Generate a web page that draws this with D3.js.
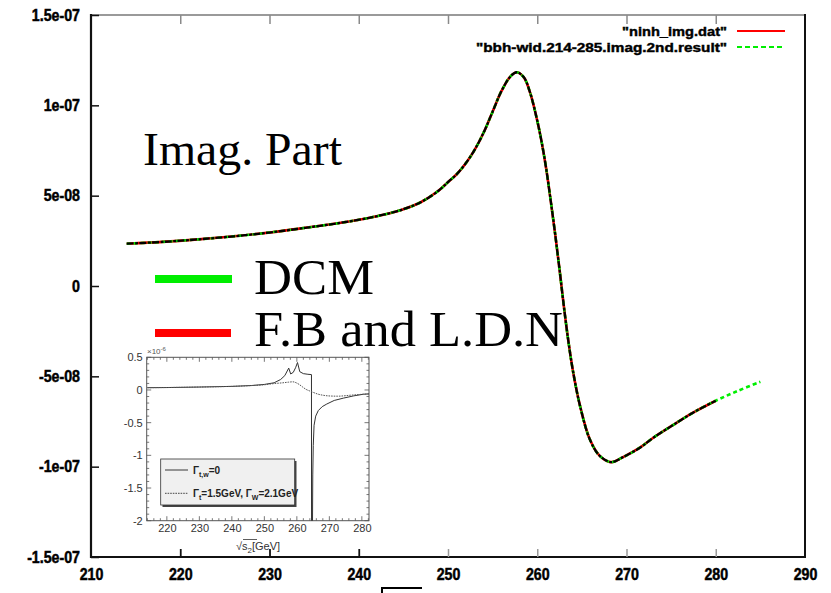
<!DOCTYPE html>
<html>
<head>
<meta charset="utf-8">
<script src="https://cdn.jsdelivr.net/npm/d3@7"></script>
<style>
  html, body { margin: 0; padding: 0; background: #fff; }
  svg { display: block; }
</style>
</head>
<body>
<svg id="chart" width="831" height="593"></svg>
<script>
// Imaginary part of the amplitude versus sqrt(s) [GeV]; values in units of 1e-9.
const sqrtS = [214, 218, 222, 226, 230, 234, 238, 242, 245, 247, 249, 250, 251, 252, 253, 254, 255, 256, 257,
  257.7, 258.5, 259.2, 260, 260.5, 261, 261.5, 262, 262.5, 263, 263.5, 264, 264.8, 265.9, 267, 268.3, 269.5,
  271.5, 273, 275.2, 277.5, 280, 282.5, 285];
const imagDCM = [23.4, 24.4, 25.8, 27.5, 29.6, 32.2, 35, 38.6, 42.5, 46.5, 53, 57.5, 62, 68, 75.5, 85, 96.5, 108, 116,
  118.3, 115.5, 107, 91.5, 79.5, 65, 47.5, 29, 9, -12, -31, -47, -66.5, -85, -94, -97.5, -95,
  -89.5, -84, -77, -70, -63.5, -58, -53];
const imagFBLDN = [23.4, 24.4, 25.8, 27.5, 29.6, 32.2, 35, 38.6, 42.5, 46.5, 53, 57.5, 62, 68, 75.5, 85, 96.5, 108, 116,
  118.3, 115.5, 107, 91.5, 79.5, 65, 47.5, 29, 9, -12, -31, -47, -66.5, -85, -94, -97.5, -95,
  -89.5, -84, -77, -70, -63.5];

const yTickValues = [-150, -100, -50, 0, 50, 100, 150];
const yTickLabels = ["-1.5e-07", "-1e-07", "-5e-08", "0", "5e-08", "1e-07", "1.5e-07"];
const xTickValues = [210, 220, 230, 240, 250, 260, 270, 280, 290];

// Inset: units of 1e-6
const insetSolidLeftX = [214, 220, 230, 240, 246, 250, 253, 255, 256.3, 257.5, 258.1, 258.9, 259.6, 260.2, 260.9, 262, 263.4, 264.5, 264.52];
const insetSolidLeftY = [0.035, 0.037, 0.045, 0.055, 0.068, 0.085, 0.11, 0.16, 0.22, 0.335, 0.245, 0.27, 0.34, 0.42, 0.28, 0.25, 0.24, 0.235, -2.2];
const insetSolidRightX = [264.8, 264.9, 265.05, 265.3, 265.8, 266.6, 267.8, 269.2, 271.5, 274.3, 277.5, 280.5, 282.2];
const insetSolidRightY = [-2.2, -1.3, -0.85, -0.54, -0.4, -0.315, -0.255, -0.215, -0.16, -0.125, -0.09, -0.065, -0.06];
const insetDashX = [214, 230, 245, 250, 253, 255.7, 257.5, 258.8, 259.8, 260.7, 261.8, 262.8, 263.8, 264.7, 266.6, 268, 269.6, 272.6, 276.5, 280.5, 282.2];
const insetDashY = [0.035, 0.045, 0.065, 0.08, 0.098, 0.11, 0.12, 0.125, 0.11, 0.085, 0.045, 0.01, -0.012, -0.03, -0.065, -0.08, -0.09, -0.095, -0.08, -0.065, -0.06];
const insetXTicks = [220, 230, 240, 250, 260, 270, 280];
const insetYTicks = [-2, -1.5, -1, -0.5, 0, 0.5];
const insetYLabels = ["-2", "-1.5", "-1", "-0.5", "0", "0.5"];

const svg = d3.select("#chart");

// ---------- main frame ----------
const x = d3.scaleLinear().domain([210, 290]).range([91, 805]);
const y = d3.scaleLinear().domain([-150, 150]).range([557, 15]);

const tickFont = "'Liberation Sans', Arial, sans-serif";

// frame edges
svg.append("line").attr("x1", 91).attr("x2", 805).attr("y1", 15).attr("y2", 15)
  .attr("stroke", "#9a9a9a").attr("stroke-width", 2);
svg.append("line").attr("x1", 91).attr("x2", 805).attr("y1", 557).attr("y2", 557)
  .attr("stroke", "#111").attr("stroke-width", 2);
svg.append("line").attr("x1", 91).attr("x2", 91).attr("y1", 14).attr("y2", 558)
  .attr("stroke", "#111").attr("stroke-width", 2.2);
svg.append("line").attr("x1", 805).attr("x2", 805).attr("y1", 14).attr("y2", 558)
  .attr("stroke", "#111").attr("stroke-width", 2);

// ticks drawn through d3 axes, pointing inward
const yAxis = svg.append("g").attr("transform", "translate(91,0)")
  .call(d3.axisLeft(y).tickValues(yTickValues).tickSizeInner(-8).tickSizeOuter(0)
    .tickFormat((d, i) => yTickLabels[i]));
yAxis.select(".domain").remove();
yAxis.selectAll(".tick line").attr("stroke", "#111").attr("stroke-width", 1.5);
yAxis.selectAll(".tick text").attr("x", -11).attr("font-family", tickFont)
  .attr("font-weight", "bold").attr("font-size", 16.5).attr("fill", "#000")
  .attr("stroke", "#000").attr("stroke-width", 0.5);

const xAxis = svg.append("g").attr("transform", "translate(0,557)")
  .call(d3.axisBottom(x).tickValues(xTickValues).tickSizeInner(-8).tickSizeOuter(0).tickFormat(d3.format("d")));
xAxis.select(".domain").remove();
xAxis.selectAll(".tick line")
  .attr("stroke", d => d < 250 ? "#111" : "#9a9a9a").attr("stroke-width", d => d < 250 ? 1.8 : 1.5)
  .attr("display", d => (d === 210 || d === 290) ? "none" : null);
xAxis.selectAll(".tick text").attr("y", 11).attr("font-family", tickFont)
  .attr("font-weight", "bold").attr("font-size", 16.5).attr("fill", "#000")
  .attr("stroke", "#000").attr("stroke-width", 0.5);

const xTop = svg.append("g").attr("transform", "translate(0,15)")
  .call(d3.axisTop(x).tickValues(xTickValues.filter(d => d > 210 && d < 290)).tickSizeInner(-9).tickSizeOuter(0).tickFormat(""));
xTop.select(".domain").remove();
xTop.selectAll(".tick line").attr("stroke", "#8a8a8a").attr("stroke-width", 1.5);

// condense the bold tick labels
svg.selectAll(".tick text").each(function () {
  const w = this.getComputedTextLength();
  if (w > 0) d3.select(this).attr("textLength", w * 0.86).attr("lengthAdjust", "spacingAndGlyphs");
});

// partial axis title at the bottom edge (radical sign of sqrt(s))
svg.append("path").attr("d", "M382,594 L382,588 L422,588")
  .attr("fill", "none").attr("stroke", "#000").attr("stroke-width", 2);

// ---------- curves ----------
const line = d3.line().x(d => x(d[0])).y(d => y(d[1])).curve(d3.curveCatmullRom.alpha(0.5));
const dcm = sqrtS.map((s, i) => [s, imagDCM[i]]);
const fb = imagFBLDN.map((v, i) => [sqrtS[i], v]);

svg.append("path").datum(fb).attr("d", line)
  .attr("fill", "none").attr("stroke", "#ff0000").attr("stroke-width", 2.6);
svg.append("path").datum(dcm).attr("d", line)
  .attr("fill", "none").attr("stroke", "#00ee00").attr("stroke-width", 2.6)
  .attr("stroke-dasharray", "4,3");
svg.append("path").datum(fb).attr("d", line)
  .attr("fill", "none").attr("stroke", "#000").attr("stroke-width", 2.3)
  .attr("stroke-dasharray", "7,1.5,3,1.2");

// ---------- key in upper right ----------
const keyFont = "'Liberation Sans', Arial, sans-serif";
const keys = [
  { label: "\"ninh_img.dat\"", y: 31, w: 105, color: "#ff0000", dash: null },
  { label: "\"bbh-wid.214-285.imag.2nd.result\"", y: 47, w: 251, color: "#00ee00", dash: "5,3" }
];
keys.forEach(k => {
  svg.append("text").attr("x", 727).attr("y", k.y + 4.5).attr("text-anchor", "end")
    .attr("font-family", keyFont).attr("font-weight", "bold").attr("font-size", 12.5)
    .attr("stroke", "#000").attr("stroke-width", 0.4)
    .attr("textLength", k.w).attr("lengthAdjust", "spacingAndGlyphs").attr("fill", "#000")
    .text(k.label);
  svg.append("line").attr("x1", 737).attr("x2", 785).attr("y1", k.y).attr("y2", k.y)
    .attr("stroke", k.color).attr("stroke-width", 2.2).attr("stroke-dasharray", k.dash);
});

// ---------- annotations ----------
const serif = "'Liberation Serif', 'Times New Roman', serif";
svg.append("text").attr("x", 143).attr("y", 165).attr("font-family", serif).attr("font-size", 47)
  .attr("textLength", 199).attr("lengthAdjust", "spacingAndGlyphs").text("Imag. Part");
svg.append("rect").attr("x", 155).attr("y", 275).attr("width", 77).attr("height", 8).attr("fill", "#00ee00");
svg.append("text").attr("x", 254).attr("y", 294).attr("font-family", serif).attr("font-size", 51)
  .attr("textLength", 120).attr("lengthAdjust", "spacingAndGlyphs").text("DCM");
svg.append("rect").attr("x", 155).attr("y", 329).attr("width", 76).attr("height", 8).attr("fill", "#ff0000");
svg.append("text").attr("x", 254).attr("y", 346).attr("font-family", serif).attr("font-size", 51)
  .attr("textLength", 309).attr("lengthAdjust", "spacingAndGlyphs").text("F.B and L.D.N");

// ---------- inset ----------
const ix = d3.scaleLinear().domain([213.8, 282.2]).range([146.7, 369]);
const iy = d3.scaleLinear().domain([-2, 0.5]).range([520.7, 357.3]);
const ins = svg.append("g");
const insFont = "'Liberation Sans', Arial, sans-serif";

ins.append("rect").attr("x", 146.7).attr("y", 357.3).attr("width", 369 - 146.7).attr("height", 520.7 - 357.3)
  .attr("fill", "#fff").attr("stroke", "#555").attr("stroke-width", 1);

ins.append("clipPath").attr("id", "insetClip").append("rect")
  .attr("x", 146.7).attr("y", 357.3).attr("width", 369 - 146.7).attr("height", 520.7 - 357.3);

// minor and major ticks on all four sides
const minorX = d3.range(214, 282.5, 2);
const minorY = d3.range(-2, 0.51, 0.1);
const tg = ins.append("g").attr("stroke", "#555").attr("stroke-width", 0.8);
minorX.forEach(v => {
  const len = (v % 10 === 0) ? 4.5 : 2.5;
  tg.append("line").attr("x1", ix(v)).attr("x2", ix(v)).attr("y1", 520.7).attr("y2", 520.7 - len);
  tg.append("line").attr("x1", ix(v)).attr("x2", ix(v)).attr("y1", 357.3).attr("y2", 357.3 + len);
});
minorY.forEach(v => {
  const major = Math.abs(v * 2 - Math.round(v * 2)) < 1e-6;
  const len = major ? 4.5 : 2.5;
  tg.append("line").attr("x1", 146.7).attr("x2", 146.7 + len).attr("y1", iy(v)).attr("y2", iy(v));
  tg.append("line").attr("x1", 369).attr("x2", 369 - len).attr("y1", iy(v)).attr("y2", iy(v));
});

const iyAxis = ins.append("g").attr("transform", "translate(146.7,0)")
  .call(d3.axisLeft(iy).tickValues(insetYTicks).tickSize(0).tickPadding(4)
    .tickFormat((d, i) => insetYLabels[i]));
iyAxis.select(".domain").remove();
iyAxis.selectAll("text").attr("font-family", insFont).attr("font-size", 11).attr("fill", "#333");

const ixAxis = ins.append("g").attr("transform", "translate(0,520.7)")
  .call(d3.axisBottom(ix).tickValues(insetXTicks).tickSize(0).tickPadding(4).tickFormat(d3.format("d")));
ixAxis.select(".domain").remove();
ixAxis.selectAll("text").attr("font-family", insFont).attr("font-size", 11).attr("fill", "#333");

ins.append("text").attr("x", 147).attr("y", 354).attr("font-family", insFont).attr("font-size", 8)
  .attr("fill", "#555").text("×10").append("tspan").attr("dy", -3).attr("font-size", 6).text("-6");

const ixl = ins.append("text").attr("x", 236).attr("y", 550).attr("font-family", insFont)
  .attr("font-size", 11).attr("fill", "#333");
ixl.append("tspan").text("√s");
ixl.append("tspan").attr("dy", 3).attr("font-size", 8).text("2");
ixl.append("tspan").attr("dy", -3).text("[GeV]");
ins.append("line").attr("x1", 243).attr("x2", 257).attr("y1", 539.5).attr("y2", 539.5)
  .attr("stroke", "#333").attr("stroke-width", 0.8);

const iline = d3.line().x(d => ix(d[0])).y(d => iy(d[1]));
const curves = ins.append("g").attr("clip-path", "url(#insetClip)");
curves.append("path").datum(insetSolidLeftX.map((v, i) => [v, insetSolidLeftY[i]])).attr("d", iline)
  .attr("fill", "none").attr("stroke", "#333").attr("stroke-width", 1);
curves.append("path").datum(insetSolidRightX.map((v, i) => [v, insetSolidRightY[i]])).attr("d", iline)
  .attr("fill", "none").attr("stroke", "#333").attr("stroke-width", 1);
curves.append("path").datum(insetDashX.map((v, i) => [v, insetDashY[i]])).attr("d", iline.curve(d3.curveMonotoneX))
  .attr("fill", "none").attr("stroke", "#555").attr("stroke-width", 1).attr("stroke-dasharray", "1.6,1");

// inset key box with a drop shadow
ins.append("rect").attr("x", 162.5).attr("y", 461).attr("width", 134).attr("height", 46).attr("fill", "#444");
ins.append("rect").attr("x", 160.7).attr("y", 459).attr("width", 134).attr("height", 46)
  .attr("fill", "#f0f0f0").attr("stroke", "#333").attr("stroke-width", 0.8);
ins.append("line").attr("x1", 165).attr("x2", 188).attr("y1", 470).attr("y2", 470)
  .attr("stroke", "#222").attr("stroke-width", 0.9);
ins.append("line").attr("x1", 165).attr("x2", 188).attr("y1", 493.3).attr("y2", 493.3)
  .attr("stroke", "#333").attr("stroke-width", 0.9).attr("stroke-dasharray", "1.6,1");

const k1 = ins.append("text").attr("x", 193).attr("y", 474).attr("font-family", insFont)
  .attr("font-size", 10).attr("font-weight", "bold").attr("fill", "#222");
k1.append("tspan").text("Γ");
k1.append("tspan").attr("dy", 2.5).attr("font-size", 7).text("t,w");
k1.append("tspan").attr("dy", -2.5).text("=0");
const k2 = ins.append("text").attr("x", 193).attr("y", 497.3).attr("font-family", insFont)
  .attr("font-size", 10).attr("font-weight", "bold").attr("fill", "#222");
k2.append("tspan").text("Γ");
k2.append("tspan").attr("dy", 2.5).attr("font-size", 7).text("t");
k2.append("tspan").attr("dy", -2.5).text("=1.5GeV, Γ");
k2.append("tspan").attr("dy", 2.5).attr("font-size", 7).text("W");
k2.append("tspan").attr("dy", -2.5).text("=2.1GeV");
</script>
</body>
</html>
